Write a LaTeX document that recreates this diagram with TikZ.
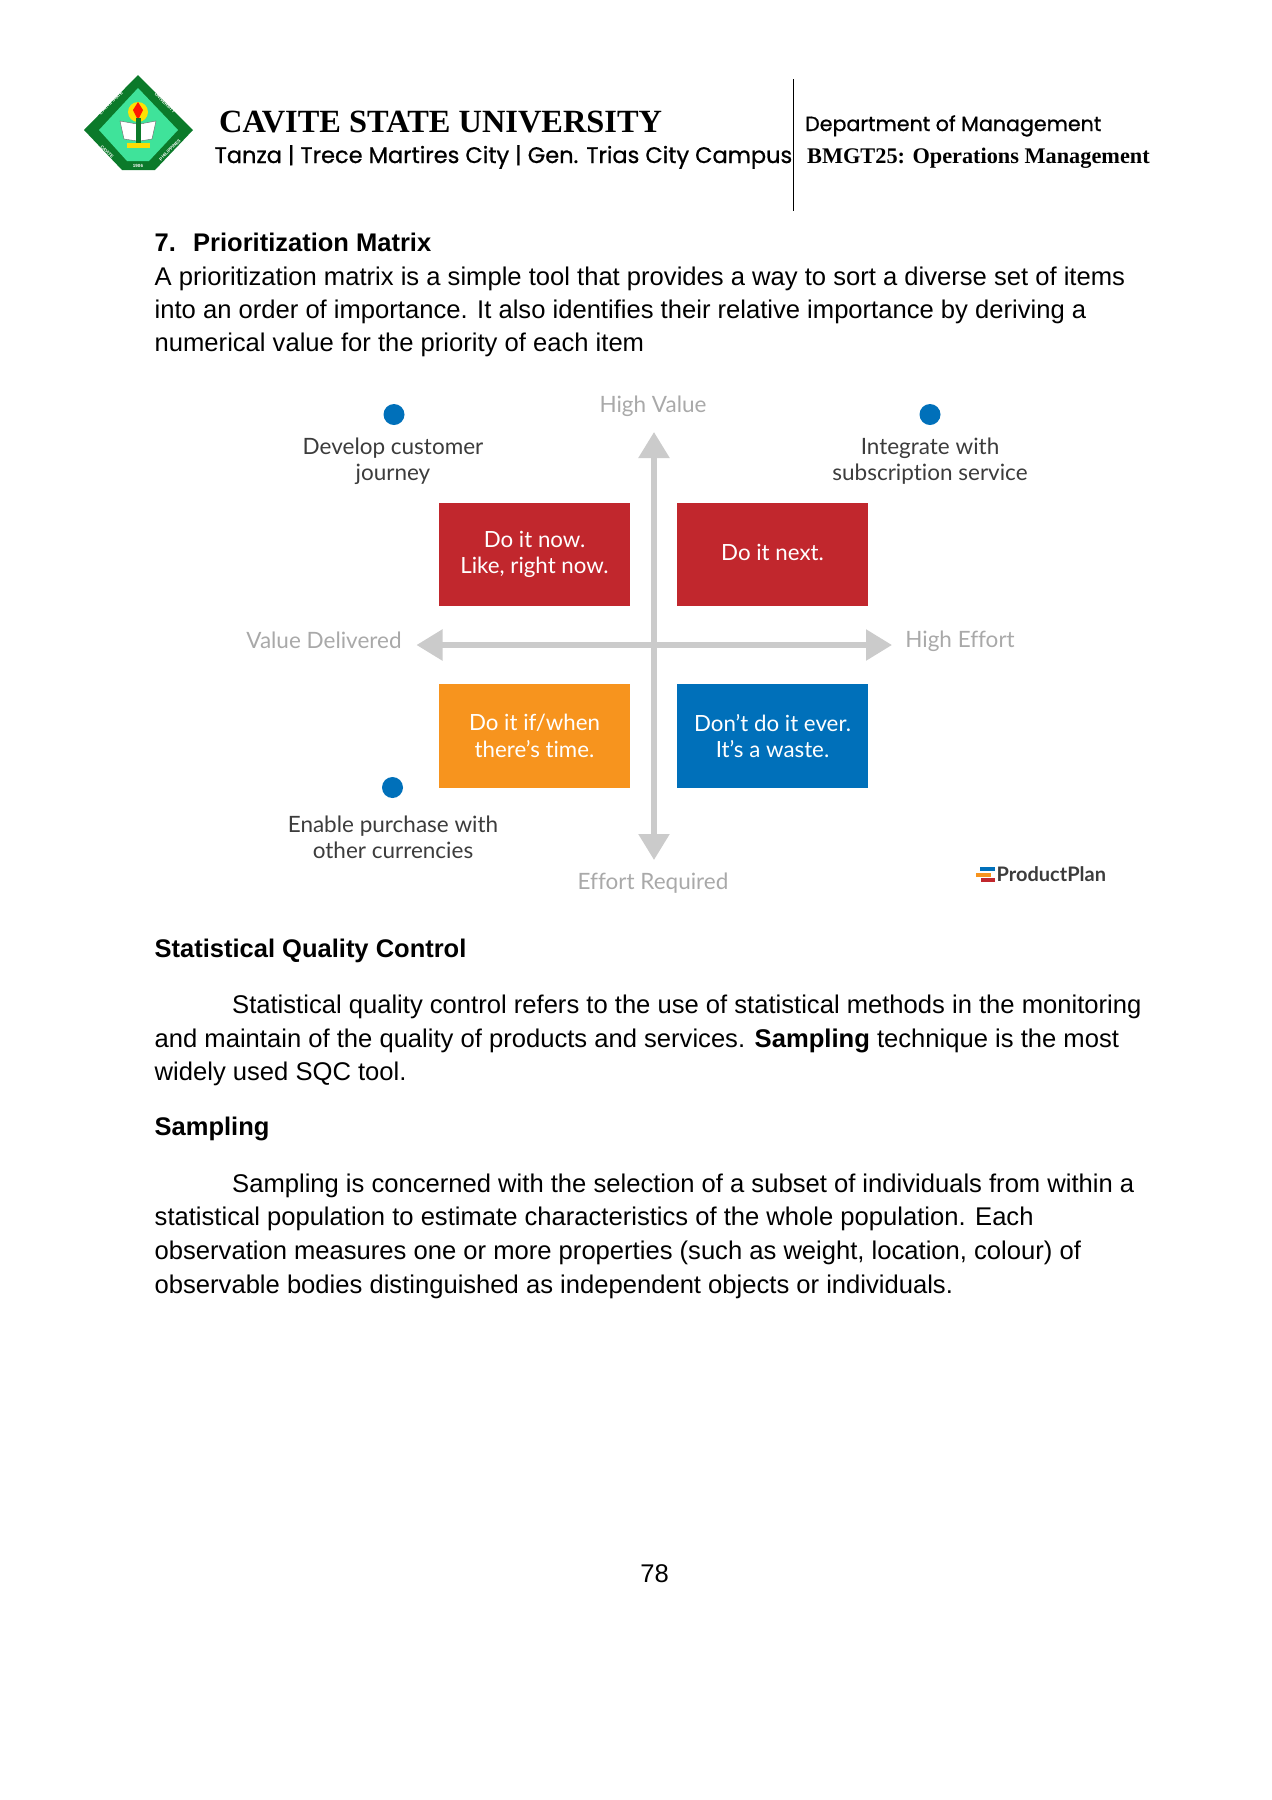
\documentclass[tikz,border=0pt]{standalone}
\usepackage{fontspec}
\setmainfont{Liberation Sans}
\newfontfamily\serifhead{Liberation Serif}
\newfontfamily\gothic[FakeBold=0.8]{Poppins}
\newfontfamily\matrixfont[Ligatures=NoCommon]{Lato}
\usetikzlibrary{arrows.meta}
\definecolor{matrixred}{HTML}{C1272D}
\definecolor{matrixorange}{HTML}{F7941E}
\definecolor{matrixblue}{HTML}{0070BA}
\definecolor{axisgray}{HTML}{CBCBCB}
\definecolor{labelgray}{HTML}{A9A9A9}
\definecolor{labeldark}{HTML}{3C3C3C}
\definecolor{logogreen}{HTML}{0B7A2A}
\definecolor{logolight}{HTML}{3FE39A}
\tikzset{
  bodyline/.style={anchor=base west,inner sep=0pt,font=\fontsize{25.6}{25.6}\selectfont},
  boldline/.style={bodyline,font=\fontsize{25.5}{25.5}\selectfont\bfseries},
  quadrant/.style={minimum width=191.5pt,minimum height=103.5pt,inner sep=0pt,text=white,align=center,
    font=\fontsize{22.3}{26.5}\selectfont\matrixfont},
  axislabel/.style={inner sep=0pt,text=labelgray,font=\fontsize{22.5}{26}\selectfont\matrixfont},
  itemlabel/.style={inner sep=0pt,text=labeldark,align=center,font=\fontsize{22.5}{26}\selectfont\matrixfont},
  itemdot/.style={circle,fill=matrixblue,minimum size=21pt,inner sep=0pt},
  axisline/.style={draw=axisgray,line width=5.5pt,{Triangle[length=26pt,width=30pt]}-{Triangle[length=26pt,width=30pt]}},
  sealtext/.style={inner sep=0pt,text=white,font=\fontsize{4.5}{5}\selectfont\bfseries}
}
\begin{document}
\begin{tikzpicture}[x=1pt,y=-1pt]
  \useasboundingbox (0,0) rectangle (1272,1800);
  \fill[logogreen] (84,130) -- (138,75) -- (193,130) -- (155,170) -- (122,170) -- cycle;
  \fill[logolight] (99,130) -- (138,88) -- (178,130) -- (149,161) -- (127,161) -- cycle;
  \fill[yellow!85!orange] (138,112) circle (10pt);
  \fill[red!80!orange] (138,120) -- (133,110) -- (138,102) -- (143,110) -- cycle;
  \fill[white,draw=black!60,line width=.4pt] (120,121) -- (137,124) -- (137,141) -- (124,139) -- cycle;
  \fill[white,draw=black!60,line width=.4pt] (156,121) -- (140,124) -- (140,141) -- (152,139) -- cycle;
  \fill[logogreen] (136,118) rectangle (141,145);
  \fill[yellow!80!orange] (127,143) rectangle (150,148);
  \node[sealtext,rotate=45] (sealtl) at (111,103) {CAVITE STATE};
  \node[sealtext,rotate=-45] (sealtr) at (165,103) {UNIVERSITY};
  \node[sealtext,rotate=-45] (sealbl) at (107,152) {CAVITE};
  \node[sealtext,rotate=45] (sealbr) at (170,150) {PHILIPPINES};
  \node[sealtext] (sealyear) at (138,166) {1906};

  \node[anchor=base west,inner sep=0pt,font=\fontsize{32.4}{32.4}\selectfont\serifhead\bfseries] (university) at (219,132.5) {CAVITE STATE UNIVERSITY};
  \node[anchor=base west,inner sep=0pt,font=\fontsize{22.5}{22.5}\selectfont\gothic] (campus) at (214.5,163) {Tanza | Trece Martires City | Gen. Trias City Campus};
  \node[anchor=base west,inner sep=0pt,font=\fontsize{20.6}{20.6}\selectfont\gothic] (department) at (805,131) {Department of Management};
  \node[anchor=base west,inner sep=0pt,font=\fontsize{22.3}{22.3}\selectfont\serifhead\bfseries] (course) at (807,163) {BMGT25: Operations Management};
  \coordinate (ruletop) at (793.5,79);
  \coordinate (rulebot) at (793.5,211);
  \draw[line width=1.5pt] (ruletop) -- (rulebot);

  \node[boldline] (prionum) at (154.5,251) {7.};
  \node[boldline] (priohead) at (193,251) {Prioritization Matrix};
  \node[bodyline] (prioa) at (154.5,285) {A prioritization matrix is a simple tool that provides a way to sort a diverse set of items};
  \node[bodyline] (priob) at (154.5,318.5) {into an order of importance. It also identifies their relative importance by deriving a};
  \node[bodyline] (prioc) at (154.5,351.5) {numerical value for the priority of each item};

  \node[axislabel] (highvalue) at (653,406) {High Value};
  \node[axislabel] (valuedelivered) at (324,640.5) {Value Delivered};
  \node[axislabel] (higheffort) at (960,641.5) {High Effort};
  \node[axislabel] (effortrequired) at (653,883) {Effort Required};
  \coordinate (axistop) at (654,432);
  \coordinate (axisbot) at (654,860);
  \coordinate (axisleft) at (416.5,645);
  \coordinate (axisright) at (892,645);
  \draw[axisline] (axistop) -- (axisbot);
  \draw[axisline] (axisleft) -- (axisright);

  \node[quadrant,fill=matrixred] (donow) at (534.5,554.5) {\raisebox{-1pt}{Do it now.}\\\raisebox{-1pt}{Like, right now.}};
  \node[quadrant,fill=matrixred] (donext) at (772.5,554.5) {\raisebox{4pt}{Do it next.}};
  \node[quadrant,fill=matrixorange] (dowhen) at (534.5,736) {Do it if/when\\there’s time.};
  \node[quadrant,fill=matrixblue] (donever) at (772.5,736) {Don’t do it ever.\\It’s a waste.};

  \node[itemdot] (dotjourney) at (394,414.5) {};
  \node[itemdot] (dotsub) at (930,414.5) {};
  \node[itemdot] (dotpurchase) at (392.5,787.5) {};
  \node[itemlabel] (journey) at (393,461) {Develop customer\\journey};
  \node[itemlabel] (sub) at (930,461) {Integrate with\\subscription service};
  \node[itemlabel] (purchase) at (393,837) {Enable purchase with\\other currencies};

  \fill[matrixblue] (980,867) rectangle (995,871);
  \fill[matrixorange] (976,873) rectangle (991,877);
  \fill[matrixred] (981,878) rectangle (995,882);
  \node[anchor=west,inner sep=0pt,text=labeldark,font=\fontsize{20}{20}\selectfont\matrixfont\bfseries] (productplan) at (996.5,874.5) {ProductPlan};

  \node[boldline] (sqchead) at (154.5,957) {Statistical Quality Control};
  \node[bodyline] (sqca) at (232,1013) {Statistical quality control refers to the use of statistical methods in the monitoring};
  \node[bodyline] (sqcb) at (154.5,1047) {and maintain of the quality of products and services. \textbf{Sampling} technique is the most};
  \node[bodyline] (sqcc) at (154.5,1080) {widely used SQC tool.};

  \node[boldline] (samphead) at (154.5,1135) {Sampling};
  \node[bodyline] (sampa) at (232,1192) {Sampling is concerned with the selection of a subset of individuals from within a};
  \node[bodyline] (sampb) at (154.5,1225.5) {statistical population to estimate characteristics of the whole population. Each};
  \node[bodyline] (sampc) at (154.5,1259.5) {observation measures one or more properties (such as weight, location, colour) of};
  \node[bodyline] (sampd) at (154.5,1293) {observable bodies distinguished as independent objects or individuals.};

  \node[anchor=base,inner sep=0pt,font=\fontsize{25.6}{25.6}\selectfont] (pagenum) at (654.5,1582.5) {78};
\end{tikzpicture}
\end{document}
